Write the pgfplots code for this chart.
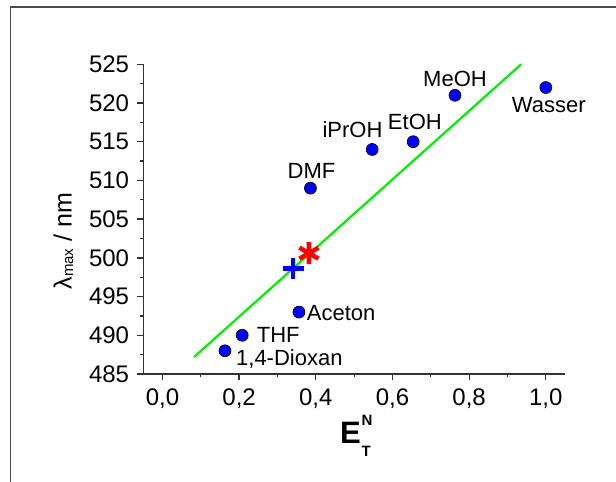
\documentclass[border=0pt]{standalone}
\usepackage{fontspec}
\setmainfont{Liberation Sans}
\usepackage{pgfplots}
\pgfplotsset{compat=1.18}
\definecolor{ptblue}{RGB}{0,0,255}
\definecolor{ptred}{RGB}{255,0,0}
\definecolor{fitgreen}{RGB}{0,240,0}
\definecolor{axgray}{RGB}{50,50,50}
\tikzset{lbl/.style={font=\fontsize{22}{22}\selectfont, inner sep=0pt, anchor=center}}

\pgfplotstableread{
x      y
0.163  488
0.208  490
0.356  493
0.386  509
0.547  514
0.654  515
0.763  521
1.000  522
}\solvents

\begin{document}
\begin{tikzpicture}[x=1pt,y=1pt]
\useasboundingbox (0,0) rectangle (616,482);
\draw[line width=1.3pt, black!70] (10.5,0) -- (10.5,475) -- (616,475);
\begin{axis}[
    at={(143.3pt,108pt)}, anchor=south west,
    scale only axis,
    width=421.7pt, height=309.7pt,
    xmin=-0.05, xmax=1.05,
    ymin=485, ymax=525,
    axis x line*=bottom, axis y line*=left,
    axis line style={line width=1.3pt, axgray},
    xtick={0,0.2,0.4,0.6,0.8,1},
    ytick={485,490,...,525},
    minor x tick num=1, minor y tick num=1,
    tick align=outside,
    major tick length=6pt, minor tick length=3pt,
    tick style={line width=1.3pt, axgray},
    /pgf/number format/assume math mode=true,
    tick label style={font=\fontsize{24}{24}\selectfont, inner sep=0pt},
    xticklabel style={yshift=-9pt, /pgf/number format/fixed, /pgf/number format/fixed zerofill,
        /pgf/number format/precision=1, /pgf/number format/use comma},
    yticklabel style={xshift=-8pt},
    clip=false,
    every axis y label/.style={at={(axis description cs:-0.170,0.429)}, rotate=90, anchor=base,
        font=\fontsize{25}{25}\selectfont, inner sep=0pt},
    every axis x label/.style={at={(axis description cs:0.466,-0.223)}, anchor=base west, inner sep=0pt},
    ylabel={λ\raisebox{-1.5pt}{\fontsize{15}{15}\selectfont max} / nm},
    xlabel={{\fontsize{31}{31}\selectfont\bfseries E}\hspace{1pt}\rlap{\raisebox{18pt}{\fontsize{15}{15}\selectfont\bfseries N}}\raisebox{-13pt}{\fontsize{15}{15}\selectfont\bfseries T}},
]
\addplot[draw=fitgreen, line width=2.2pt] coordinates {(0.0825,487.2) (0.9355,525.0)};
\addplot[only marks, mark=*, mark size=6pt,
    mark options={fill=ptblue, draw=black, line width=0.6pt}] table[x=x, y=y] {\solvents};
\addplot[only marks, mark=+, mark size=10.5pt,
    mark options={draw=ptblue, line width=4.5pt}] coordinates {(0.341,498.6)};
\addplot[only marks, mark=asterisk, mark size=11pt,
    mark options={draw=ptred, line width=4.5pt}] coordinates {(0.382,500.6)};

\node[lbl, anchor=west, xshift=11pt, yshift=-8.3pt] at (axis cs:0.163,488) {1,4-Dioxan};
\node[lbl, anchor=west, xshift=14.4pt] at (axis cs:0.208,490) {THF};
\node[lbl, anchor=west, xshift=7.7pt, yshift=-0.8pt] at (axis cs:0.356,493) {Aceton};
\node[lbl, xshift=1pt, yshift=17.7pt] at (axis cs:0.386,509) {DMF};
\node[lbl, xshift=-19.7pt, yshift=20pt] at (axis cs:0.547,514) {iPrOH};
\node[lbl, xshift=1.7pt, yshift=19.3pt] at (axis cs:0.654,515) {EtOH};
\node[lbl, yshift=16.7pt] at (axis cs:0.763,521) {MeOH};
\node[lbl, xshift=3pt, yshift=-17.7pt] at (axis cs:1.0,522) {Wasser};
\end{axis}
\end{tikzpicture}
\end{document}
